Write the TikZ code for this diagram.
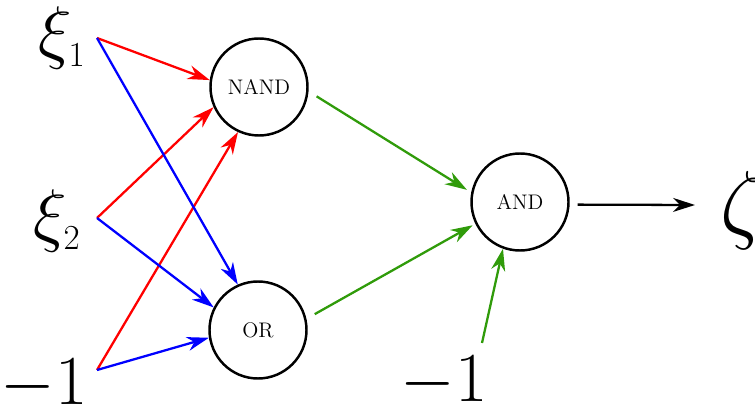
\RequirePackage{fix-cm}
\documentclass[tikz,border=0pt]{standalone}
\usepackage{amsmath}
\usetikzlibrary{arrows.meta}
\DeclareMathSizes{40}{40}{20}{14}
\definecolor{gategreen}{RGB}{48,155,10}

\begin{document}
\begin{tikzpicture}[
    gate/.style={circle, draw, line width=1.4pt, minimum size=1.94cm, inner sep=0pt, font=\fontsize{12}{14}\selectfont},
    big/.style={inner sep=0pt, font=\fontsize{40}{48}\selectfont},
    wire/.style={line width=1.3pt, -{Stealth[length=4.4mm, width=2.8mm, inset=1.4mm]}}]
			\useasboundingbox (0, 0) rectangle (15.1, -8.18);
			% gates
			\draw (5.18, -1.74) node [gate] (nand) {NAND};
			\draw (5.16, -6.60) node [gate] (or) {OR};
			\draw (10.40, -4.04) node [gate] (and) {AND};
			% inputs and output
			\coordinate (in1) at (1.94, -0.76);
			\coordinate (in2) at (1.94, -4.36);
			\coordinate (in3) at (1.94, -7.40);
			\coordinate (bias) at (9.64, -6.86);
			\coordinate (out) at (13.90, -4.10);
			\draw (1.72, -1.12) node [big, anchor=base east] (xi1) {$\xi_1$};
			\draw (1.62, -4.78) node [big, anchor=base east] (xi2) {$\xi_2$};
			\draw (1.76, -8.10) node [big, anchor=base east] (m1) {$-1$};
			\draw (9.76, -8.04) node [big, anchor=base east] (m2) {$-1$};
			\draw (14.40, -4.66) node [big, anchor=base west, font=\fontsize{50}{60}\selectfont] (zeta) {$\zeta$};
			% connectors
			\path [wire, red] (in1) edge (nand.172) (in2) edge (nand.204) (in3) edge (nand.245);
			\path [wire, blue] (in1) edge (or.114) (in2) edge (or.153) (in3) edge (or.189);
			\path [wire, gategreen] (nand.-5) edge [shorten <=1.9mm, shorten >=1mm] (and.169);
			\path [wire, gategreen] (or.13) edge [shorten <=1.9mm, shorten >=0.6mm] (and.206);
			\path [wire, gategreen] (bias) edge (and.250);
			\path [wire, black] (and.-3) edge [shorten <=1.6mm] (out);
		\end{tikzpicture}
\end{document}
